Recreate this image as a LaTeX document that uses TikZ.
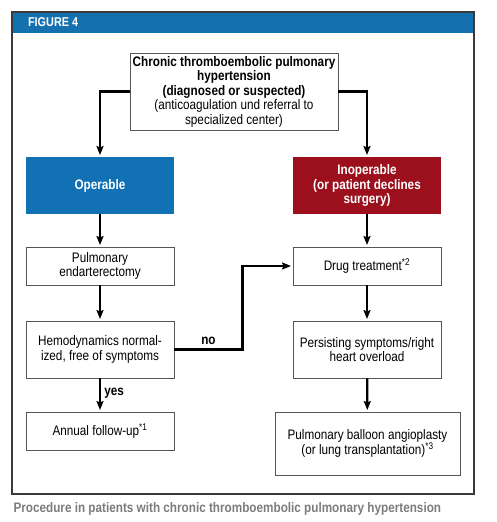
\documentclass[tikz,border=0pt]{standalone}
\usepackage{fontspec}
\setmainfont[FakeStretch=0.85]{Liberation Sans}
\usetikzlibrary{arrows.meta}

\definecolor{figblue}{HTML}{1570B0}
\definecolor{opblue}{HTML}{1271B4}
\definecolor{inopred}{HTML}{9B101C}
\definecolor{framegray}{HTML}{3A3A3A}
\definecolor{boxgray}{HTML}{555555}
\definecolor{capgray}{HTML}{7C7C7C}

\begin{document}
\begin{tikzpicture}[x=1pt, y=-1pt,
    stepbox/.style={draw=boxgray, line width=0.9pt, align=center, inner sep=2pt,
      minimum width=148pt, font=\fontsize{13.8}{14.5}\selectfont},
    colbox/.style={stepbox, draw=none, text=white, font=\fontsize{13.8}{14.5}\selectfont\bfseries},
    arr/.style={line width=2.2pt, shorten >=1.5pt, -{Stealth[length=9pt,width=7pt,inset=1.5pt]}},
    lbl/.style={font=\fontsize{13.8}{14.5}\selectfont\bfseries}]
  \useasboundingbox (0,0) rectangle (496,522);
  % frame and header
  \fill[figblue] (12,12) rectangle (474,33);
  \draw[framegray, line width=1.3pt] (12,12) rectangle (474,494);
  \node[anchor=west, text=white, font=\fontsize{12.8}{14}\selectfont\bfseries] (fig) at (24.5,22.5) {FIGURE 4};

  \node[stepbox, minimum width=208pt, minimum height=77pt] (cteph) at (234,91.5)
    {\textbf{Chronic thromboembolic pulmonary}\\ \textbf{hypertension}\\ \textbf{(diagnosed or suspected)}\\
     (anticoagulation und referral to\\ specialized center)};

  \node[colbox, fill=opblue, minimum height=57pt] (op) at (100,185.5) {Operable};
  \node[colbox, fill=inopred, minimum height=57pt] (inop) at (367,185.5) {Inoperable\\ (or patient declines\\ surgery)};

  \node[stepbox, minimum height=38pt] (pea) at (100,266) {Pulmonary\\ endarterectomy};
  \node[stepbox, minimum height=38pt] (drug) at (367,266) {Drug treatment\textsuperscript{*2}};
  \node[stepbox, minimum height=57pt] (hemo) at (100,349.5) {Hemodynamics normal-\\ ized, free of symptoms};
  \node[stepbox, minimum height=57pt] (persist) at (367,349.5) {Persisting symptoms/right\\ heart overload};
  \node[stepbox, minimum height=38pt] (annual) at (100,431) {Annual follow-up\textsuperscript{*1}};
  \node[stepbox, minimum width=185pt, minimum height=63pt] (pba) at (367.5,443.5)
    {Pulmonary balloon angioplasty\\ (or lung transplantation)\textsuperscript{*3}};

  \draw[arr] (cteph.west) -| (op.north);
  \draw[arr] (cteph.east) -| (inop.north);
  \draw[arr] (op) -- (pea);
  \draw[arr] (inop) -- (drug);
  \draw[arr] (pea) -- (hemo);
  \draw[arr] (drug) -- (persist);
  \draw[arr] (hemo.east) -- node[lbl, above, pos=0.5] (no) {no} ++(68,0) |- (drug.west);
  \draw[arr] (hemo) -- node[lbl, right, pos=0.45] (yes) {yes} (annual);
  \draw[arr] (persist) -- (pba);

  \node[anchor=west, text=capgray, font=\fontsize{13.8}{16}\selectfont\bfseries] (caption) at (10,509)
    {Procedure in patients with chronic thromboembolic pulmonary hypertension};
\end{tikzpicture}
\end{document}
